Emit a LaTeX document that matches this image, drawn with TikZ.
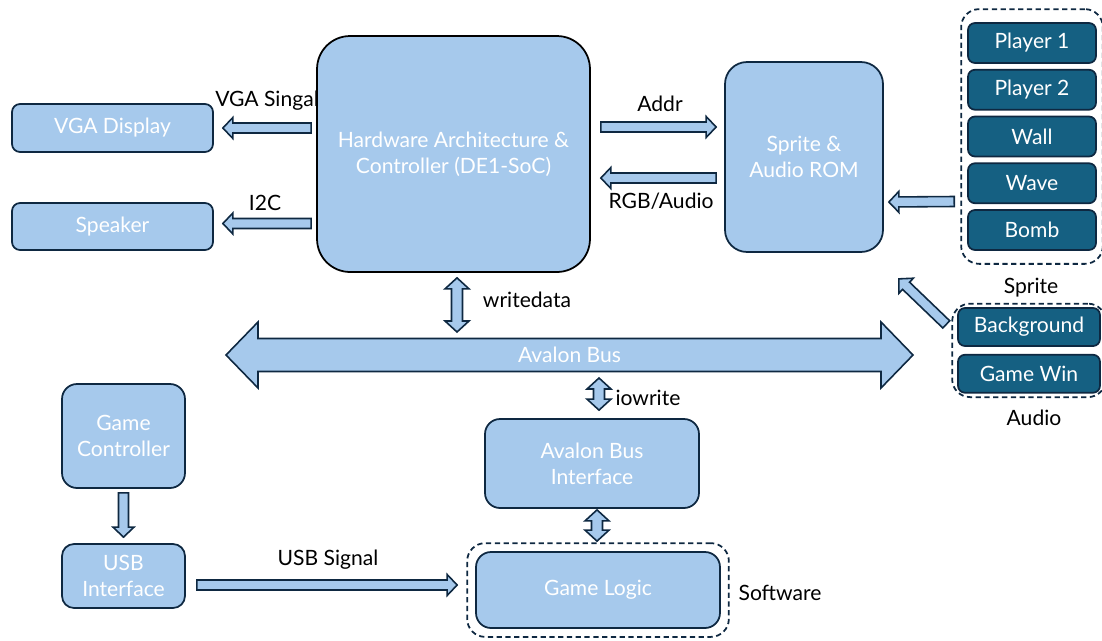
\documentclass[tikz,border=0pt]{standalone}
\usepackage{fontspec}
\setmainfont{Lato}
\usetikzlibrary{positioning, calc, fit}

\definecolor{paleblue}{HTML}{A6C9EC}
\definecolor{navy}{HTML}{0E2841}
\definecolor{assetblue}{HTML}{156082}

\begin{document}
\begin{tikzpicture}[x=0.02cm, y=-0.02cm,
    block/.style={rectangle, draw=navy, line width=1pt, fill=paleblue, text=white, align=center, rounded corners=0.3cm, font=\fontsize{12}{15}\selectfont},
    asset/.style={rectangle, draw=navy, line width=1pt, fill=assetblue, text=white, rounded corners=0.14cm, minimum width=2.56cm, minimum height=0.8cm, font=\fontsize{12}{15}\selectfont},
    group/.style={draw=navy, line width=1pt, dash pattern=on 3pt off 2pt, rounded corners=0.36cm},
    tag/.style={text=black, font=\fontsize{12}{15}\selectfont},
    pipe/.style n args={3}{fill=paleblue, draw=navy, line width=0.9pt, line join=miter,
        to path={(\tikztostart) -- ($(\tikztostart)!#1!90:(\tikztotarget)$)
            -- ($(\tikztotarget)!#3!(\tikztostart)!#1!90:(\tikztotarget)$)
            -- ($(\tikztotarget)!#3!(\tikztostart)!#2!90:(\tikztotarget)$)
            -- (\tikztotarget)
            -- ($(\tikztotarget)!#3!(\tikztostart)!#2!-90:(\tikztotarget)$)
            -- ($(\tikztotarget)!#3!(\tikztostart)!#1!-90:(\tikztotarget)$)
            -- ($(\tikztostart)!#1!-90:(\tikztotarget)$) -- cycle}},
    twoway/.style n args={3}{fill=paleblue, draw=navy, line width=0.9pt, line join=miter,
        to path={(\tikztostart)
            -- ($(\tikztostart)!#3!(\tikztotarget)!#2!90:(\tikztotarget)$)
            -- ($(\tikztostart)!#3!(\tikztotarget)!#1!90:(\tikztotarget)$)
            -- ($(\tikztotarget)!#3!(\tikztostart)!#1!90:(\tikztotarget)$)
            -- ($(\tikztotarget)!#3!(\tikztostart)!#2!90:(\tikztotarget)$)
            -- (\tikztotarget)
            -- ($(\tikztotarget)!#3!(\tikztostart)!#2!-90:(\tikztotarget)$)
            -- ($(\tikztotarget)!#3!(\tikztostart)!#1!-90:(\tikztotarget)$)
            -- ($(\tikztostart)!#3!(\tikztotarget)!#1!-90:(\tikztotarget)$)
            -- ($(\tikztostart)!#3!(\tikztotarget)!#2!-90:(\tikztotarget)$) -- cycle}},
    sig/.style={pipe={0.1cm}{0.21cm}{0.2cm}},
    duplex/.style={twoway={0.11cm}{0.24cm}{0.22cm}},
    bus/.style={twoway={0.33cm}{0.66cm}{0.64cm}}
]
\useasboundingbox (0,0) rectangle (1102,640);

% Hardware side
\node[block, draw=black, minimum width=5.46cm, minimum height=4.72cm, rounded corners=0.66cm] (hw) at (453.5,154) {Hardware Architecture \&\\Controller (DE1-SoC)};
\node[block, minimum width=4.02cm, minimum height=0.96cm, rounded corners=0.16cm] (vga) at (112.5,128) {VGA Display};
\node[block, minimum width=4.02cm, minimum height=0.94cm, rounded corners=0.16cm] (spk) at (112.5,226.5) {Speaker};
\node[block, minimum width=3.16cm, minimum height=3.8cm, rounded corners=0.44cm] (rom) at (804,157) {Sprite \&\\Audio ROM};

% Sprite and audio assets
\node[asset] (p1) at (1032,43) {Player 1};
\node[asset, below=0.1cm of p1] (p2) {Player 2};
\node[asset, below=0.1cm of p2] (wall) {Wall};
\node[asset, below=0.1cm of wall] (wave) {Wave};
\node[asset, below=0.1cm of wave] (bomb) {Bomb};
\node[group, fit=(p1)(bomb), inner xsep=0.12cm, inner ysep=0.26cm] (sprgroup) {};
\node[tag] (sprtag) at (1031,288) {Sprite};

\node[asset, minimum width=2.84cm, minimum height=0.76cm] (bg) at (1029,327) {Background};
\node[asset, minimum width=2.84cm, minimum height=0.76cm, below=0.14cm of bg] (gw) {Game Win};
\node[group, fit=(bg)(gw), inner xsep=0.1cm, inner ysep=0.07cm] (audgroup) {};
\node[tag] (audtag) at (1034,418) {Audio};

% Software side
\node[block, minimum width=2.46cm, minimum height=2.08cm] (gc) at (123.5,436) {Game\\Controller};
\node[block, minimum width=2.46cm, minimum height=1.28cm, rounded corners=0.24cm] (usb) at (123.5,576) {USB\\Interface};
\node[block, minimum width=4.28cm, minimum height=1.78cm] (abi) at (592,463.5) {Avalon Bus\\Interface};
\node[block, minimum width=4.88cm, minimum height=1.52cm] (gl) at (598,590) {Game Logic};
\node[group, fit=(gl), inner sep=0.16cm] (swgroup) {};
\node[tag] (swtag) at (780,593) {Software};

% Bus
\coordinate (busL) at (226,355);
\coordinate (busR) at (913,355);
\draw[bus] (busL) to (busR);
\node[text=white, font=\fontsize{12}{15}\selectfont] (bustag) at ($(busL)!0.5!(busR)$) {Avalon Bus};

% Signals
\draw[sig] ($(hw.west |- vga.east)+(-5,0)$) to ($(vga.east)+(9,0)$);
\draw[sig] ($(hw.west |- spk.east)+(-5,-3)$) to ($(spk.east)+(9,-3)$);
\draw[sig] ($(hw.east)+(10,-27)$) to ($(rom.west)+(-8,-30)$);
\draw[sig] ($(rom.west)+(-8,21)$) to ($(hw.east)+(10,24)$);
\draw[sig] ($(sprgroup.west)+(-6,65)$) to ($(rom.east)+(5,45)$);
\draw[sig] ($(audgroup.west)+(-5,-26)$) to ($(rom.south east)+(15,26)$);
\draw[sig] ($(gc.south)+(0,4)$) to ($(usb.north)+(0,-6)$);
\draw[sig] ($(usb.east)+(11,9)$) to ($(gl.west)+(-18,-5)$);
\draw[duplex] ($(hw.south)+(3.5,5)$) to ($(hw.south |- busL)+(3.5,-23)$);
\draw[duplex] ($(abi.north)+(7,-8)$) to ($(abi.north |- busL)+(7,23)$);
\draw[duplex] ($(abi.south)+(5,1)$) to ($(gl.north)+(-1,-10)$);

% Labels
\node[tag] (vgatag) at (267,101) {VGA Singal};
\node[tag] (i2ctag) at (265,203) {I2C};
\node[tag] (addrtag) at (660,104) {Addr};
\node[tag] (rgbtag) at (661,201) {RGB/Audio};
\node[tag] (wrtag) at (527,300) {writedata};
\node[tag] (iotag) at (648,398) {iowrite};
\node[tag] (usbtag) at (328,560) {USB Signal};

\end{tikzpicture}
\end{document}
